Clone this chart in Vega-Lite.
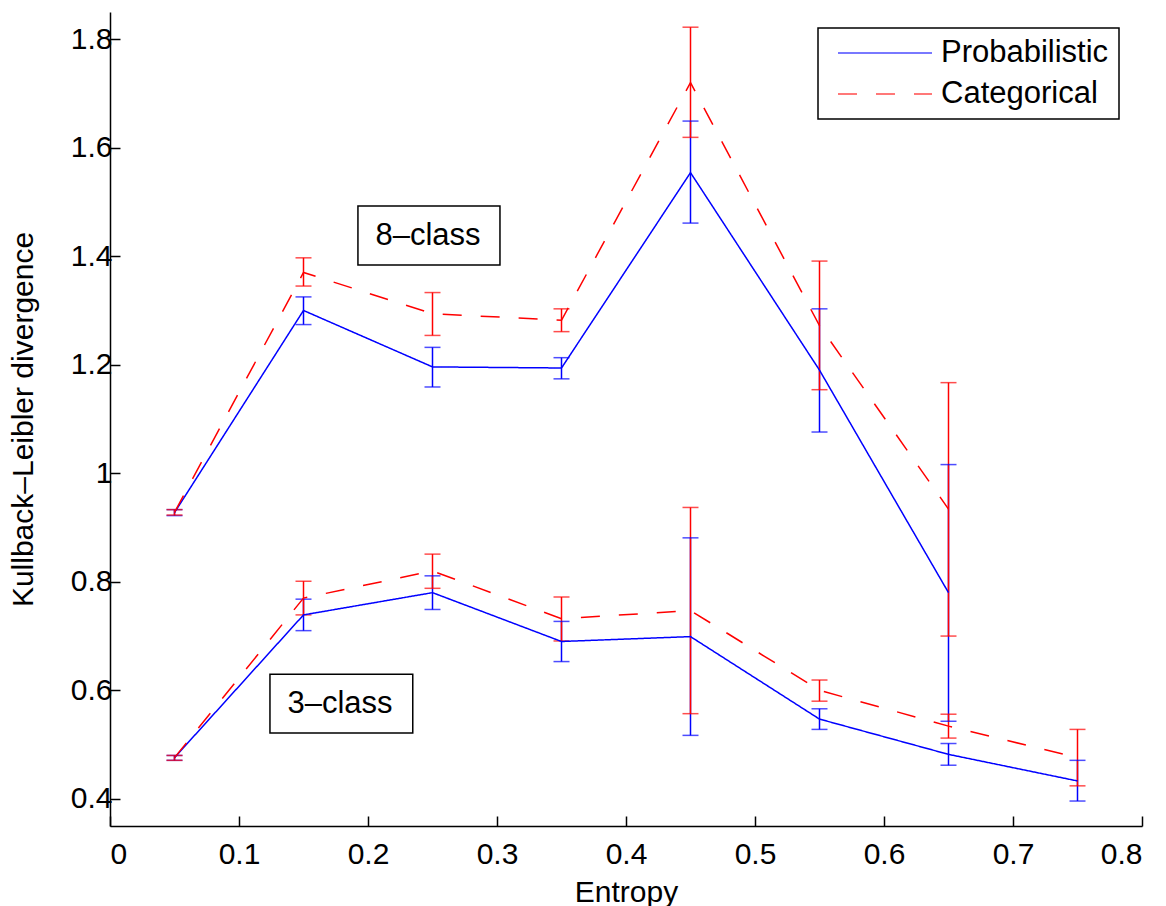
{
  "$schema": "https://vega.github.io/schema/vega-lite/v6.json",
  "width": 1032,
  "height": 814,
  "autosize": {"type": "none"},
  "padding": {"left": 110, "top": 12, "right": 24, "bottom": 80},
  "background": "white",
  "config": {
    "view": {"stroke": null},
    "font": "Liberation Sans",
    "axis": {"grid": false, "domainColor": "black", "domainWidth": 1.5, "tickColor": "black", "tickWidth": 1.5, "tickSize": -10, "labelColor": "black", "titleColor": "black", "labelFont": "Liberation Sans", "titleFont": "Liberation Sans", "labelFontSize": 30, "titleFontSize": 30, "titleFontWeight": "normal"},
    "legend": {"strokeColor": "black", "strokeWidth": 1.5, "padding": 10, "labelFontSize": 31, "labelColor": "black", "labelFont": "Liberation Sans", "labelLimit": 400, "symbolType": "stroke", "symbolStrokeWidth": 1.5, "symbolOffset": 9, "labelOffset": 8, "rowPadding": 10, "clipHeight": 30, "fillColor": "white"}
  },
  "datasets": {
    "kl": [
      {"entropy": 0.05, "series": "Probabilistic", "group": "8-class", "kl": 0.9275, "lo": 0.922, "hi": 0.933},
      {"entropy": 0.15, "series": "Probabilistic", "group": "8-class", "kl": 1.300, "lo": 1.274, "hi": 1.325},
      {"entropy": 0.25, "series": "Probabilistic", "group": "8-class", "kl": 1.196, "lo": 1.159, "hi": 1.232},
      {"entropy": 0.35, "series": "Probabilistic", "group": "8-class", "kl": 1.194, "lo": 1.174, "hi": 1.213},
      {"entropy": 0.45, "series": "Probabilistic", "group": "8-class", "kl": 1.554, "lo": 1.461, "hi": 1.649},
      {"entropy": 0.55, "series": "Probabilistic", "group": "8-class", "kl": 1.190, "lo": 1.076, "hi": 1.303},
      {"entropy": 0.65, "series": "Probabilistic", "group": "8-class", "kl": 0.780, "lo": 0.543, "hi": 1.016},
      {"entropy": 0.05, "series": "Probabilistic", "group": "3-class", "kl": 0.476, "lo": 0.471, "hi": 0.480},
      {"entropy": 0.15, "series": "Probabilistic", "group": "3-class", "kl": 0.739, "lo": 0.710, "hi": 0.768},
      {"entropy": 0.25, "series": "Probabilistic", "group": "3-class", "kl": 0.780, "lo": 0.749, "hi": 0.811},
      {"entropy": 0.35, "series": "Probabilistic", "group": "3-class", "kl": 0.690, "lo": 0.653, "hi": 0.727},
      {"entropy": 0.45, "series": "Probabilistic", "group": "3-class", "kl": 0.699, "lo": 0.517, "hi": 0.881},
      {"entropy": 0.55, "series": "Probabilistic", "group": "3-class", "kl": 0.547, "lo": 0.528, "hi": 0.566},
      {"entropy": 0.65, "series": "Probabilistic", "group": "3-class", "kl": 0.482, "lo": 0.462, "hi": 0.502},
      {"entropy": 0.75, "series": "Probabilistic", "group": "3-class", "kl": 0.433, "lo": 0.396, "hi": 0.471},
      {"entropy": 0.05, "series": "Categorical", "group": "8-class", "kl": 0.928, "lo": 0.923, "hi": 0.933},
      {"entropy": 0.15, "series": "Categorical", "group": "8-class", "kl": 1.370, "lo": 1.345, "hi": 1.397},
      {"entropy": 0.25, "series": "Categorical", "group": "8-class", "kl": 1.294, "lo": 1.254, "hi": 1.333},
      {"entropy": 0.35, "series": "Categorical", "group": "8-class", "kl": 1.282, "lo": 1.261, "hi": 1.303},
      {"entropy": 0.45, "series": "Categorical", "group": "8-class", "kl": 1.720, "lo": 1.619, "hi": 1.822},
      {"entropy": 0.55, "series": "Categorical", "group": "8-class", "kl": 1.272, "lo": 1.154, "hi": 1.391},
      {"entropy": 0.65, "series": "Categorical", "group": "8-class", "kl": 0.934, "lo": 0.700, "hi": 1.167},
      {"entropy": 0.05, "series": "Categorical", "group": "3-class", "kl": 0.476, "lo": 0.471, "hi": 0.480},
      {"entropy": 0.15, "series": "Categorical", "group": "3-class", "kl": 0.770, "lo": 0.739, "hi": 0.801},
      {"entropy": 0.25, "series": "Categorical", "group": "3-class", "kl": 0.820, "lo": 0.788, "hi": 0.851},
      {"entropy": 0.35, "series": "Categorical", "group": "3-class", "kl": 0.732, "lo": 0.691, "hi": 0.772},
      {"entropy": 0.45, "series": "Categorical", "group": "3-class", "kl": 0.747, "lo": 0.557, "hi": 0.937},
      {"entropy": 0.55, "series": "Categorical", "group": "3-class", "kl": 0.600, "lo": 0.580, "hi": 0.619},
      {"entropy": 0.65, "series": "Categorical", "group": "3-class", "kl": 0.534, "lo": 0.512, "hi": 0.556},
      {"entropy": 0.75, "series": "Categorical", "group": "3-class", "kl": 0.476, "lo": 0.424, "hi": 0.528}
    ],
    "notes": [
      {"label": "8–class", "x": 0.2465, "y": 1.437, "x1": 0.1922, "x2": 0.3023, "y1": 1.3838, "y2": 1.4925},
      {"label": "3–class", "x": 0.1783, "y": 0.5748, "x1": 0.124, "x2": 0.2347, "y1": 0.5214, "y2": 0.6295}
    ]
  },
  "layer": [
    {
      "data": {"name": "kl"},
      "mark": {"type": "rule", "strokeWidth": 1.5},
      "encoding": {
        "x": {"field": "entropy", "type": "quantitative", "scale": {"domain": [0, 0.8], "nice": false, "zero": false},
              "axis": {"title": "Entropy", "values": [0, 0.1, 0.2, 0.3, 0.4, 0.5, 0.6, 0.7, 0.8], "format": "~g", "labelPadding": 23, "titlePadding": 8}},
        "y": {"field": "lo", "type": "quantitative", "scale": {"domain": [0.35, 1.85], "nice": false, "zero": false},
              "axis": {"title": "Kullback–Leibler divergence", "values": [0.4, 0.6, 0.8, 1, 1.2, 1.4, 1.6, 1.8], "format": "~g", "labelPadding": 8, "titlePadding": 32}},
        "y2": {"field": "hi"},
        "color": {"field": "series", "type": "nominal", "scale": {"domain": ["Probabilistic", "Categorical"], "range": ["#0000ff", "#ff0000"]},
                  "legend": {"title": null, "orient": "none", "legendX": 708, "legendY": 16, "symbolSize": 8836}}
      }
    },
    {
      "data": {"name": "kl"},
      "mark": {"type": "tick", "orient": "horizontal", "size": 16, "thickness": 1.5},
      "encoding": {
        "x": {"field": "entropy", "type": "quantitative"},
        "y": {"field": "lo", "type": "quantitative"},
        "color": {"field": "series", "type": "nominal"}
      }
    },
    {
      "data": {"name": "kl"},
      "mark": {"type": "tick", "orient": "horizontal", "size": 16, "thickness": 1.5},
      "encoding": {
        "x": {"field": "entropy", "type": "quantitative"},
        "y": {"field": "hi", "type": "quantitative"},
        "color": {"field": "series", "type": "nominal"}
      }
    },
    {
      "data": {"name": "kl"},
      "mark": {"type": "line", "strokeWidth": 1.5},
      "encoding": {
        "x": {"field": "entropy", "type": "quantitative"},
        "y": {"field": "kl", "type": "quantitative"},
        "detail": {"field": "group", "type": "nominal"},
        "color": {"field": "series", "type": "nominal"},
        "strokeDash": {"field": "series", "type": "nominal", "scale": {"domain": ["Probabilistic", "Categorical"], "range": [[1, 0], [19, 19]]},
                       "legend": {"title": null, "orient": "none", "legendX": 708, "legendY": 16, "symbolSize": 8836}}
      }
    },
    {
      "data": {"name": "notes"},
      "mark": {"type": "rect", "fill": "white", "stroke": "black", "strokeWidth": 1.5},
      "encoding": {
        "x": {"field": "x1", "type": "quantitative"},
        "x2": {"field": "x2"},
        "y": {"field": "y1", "type": "quantitative"},
        "y2": {"field": "y2"}
      }
    },
    {
      "data": {"name": "notes"},
      "mark": {"type": "text", "fontSize": 31, "color": "black", "align": "center", "baseline": "middle"},
      "encoding": {
        "x": {"field": "x", "type": "quantitative"},
        "y": {"field": "y", "type": "quantitative"},
        "text": {"field": "label"}
      }
    }
  ]
}
